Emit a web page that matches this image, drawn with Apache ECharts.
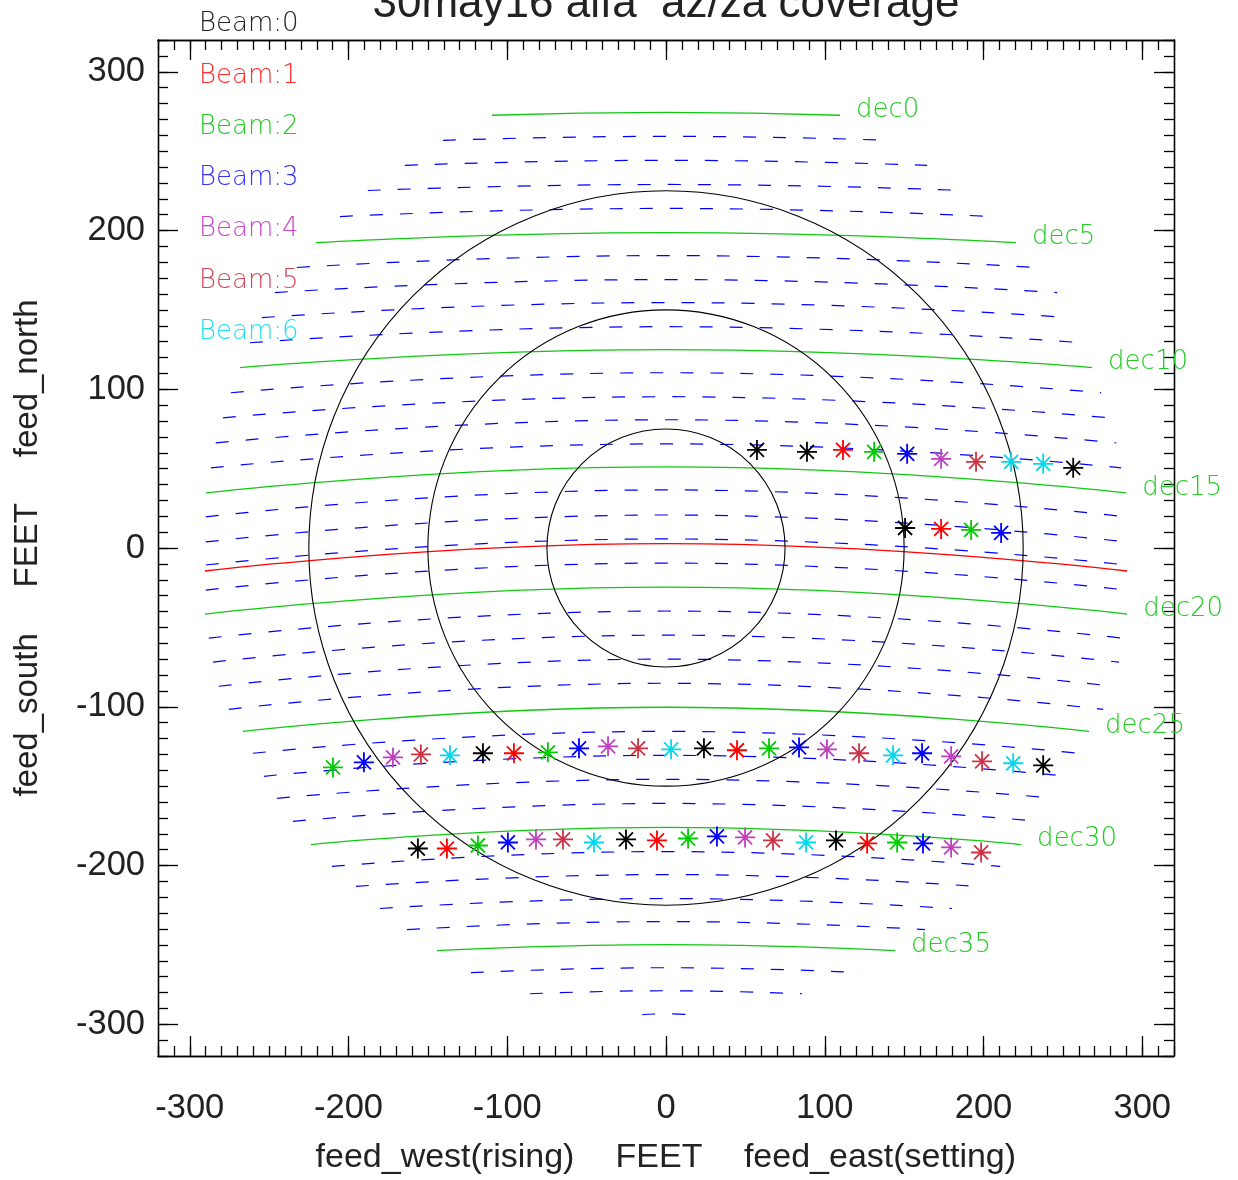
<!DOCTYPE html>
<html><head><meta charset="utf-8">
<script src="https://cdn.jsdelivr.net/npm/echarts@6/dist/echarts.min.js"></script>
<style>html,body{margin:0;padding:0;background:#fff}#c{width:1238px;height:1180px}</style>
</head><body><div id="c"></div>
<script>
// ---------------- data ----------------
const titleText = '30may16 alfa  az/za coverage';
const xTickValues = [-300, -200, -100, 0, 100, 200, 300];
const yTickValues = [-300, -200, -100, 0, 100, 200, 300];
const xNameParts = ['feed_west(rising)', 'FEET', 'feed_east(setting)'];
const yNameText = 'feed_south     FEET     feed_north';
const beamNames = ['Beam:0', 'Beam:1', 'Beam:2', 'Beam:3', 'Beam:4', 'Beam:5', 'Beam:6'];
const beamColors = ['#000000', '#ff0000', '#00cc00', '#0000ff', '#c040c0', '#cc3344', '#00d8ee'];
const beamTextColors = ['#222222', '#ff2a2a', '#22cc22', '#3333ff', '#cc44cc', '#d84455', '#22ddee'];
const circleRadii = [75, 150, 225];

// declination lines: degrees, centre y, end y, half width (feet)
const decDeg  = [0,1,2,3,4,5,6,7,8,9,10,11,12,13,14,15,16,17,18,19,20,21,22,23,24,25,26,27,28,29,30,31,32,33,34,35,36,37,38];
const decMidY = [274.4,259.3,244.2,229.0,213.9,198.7,184.2,169.1,154.6,139.4,124.9,110.4,95.3,80.8,65.6,51.1,36.6,20.8,5.7,-9.5,-24.6,-39.7,-54.9,-70.0,-85.2,-100.3,-115.5,-130.6,-145.7,-160.9,-176.0,-191.2,-205.7,-220.8,-235.3,-249.8,-264.4,-278.9,-293.4];
const decEndY = [272.6,256.8,241.0,225.2,208.8,192.4,176.7,160.9,145.1,129.3,113.6,97.8,82.0,66.2,50.5,34.7,19.6,3.8,-10.7,-26.5,-41.6,-56.8,-71.9,-87.1,-101.6,-115.5,-129.3,-143.8,-157.7,-172.2,-186.8,-200.6,-213.2,-227.1,-240.4,-253.6,-267.5,-280.8,-294.0];
const decEndX = [109.6,140.5,164.5,187.8,205.4,220.5,232.5,246.4,254.6,262.1,268.4,274.1,279.1,283.6,286.7,289.9,289.9,289.9,289.9,289.9,290.5,288.0,285.4,281.7,275.4,266.5,260.2,253.3,245.1,235.0,223.7,210.5,195.3,180.2,163.2,144.3,122.9,85.7,15.0];
// latitude (red) line
const latMidY = 2.8;
const latEndY = -14.5;
const latEndX = 290.5;

// beam positions [x, y] in feet
const beam0 = [[57.3,61.8],[88.8,60.6],[256.5,50.5],[150.6,12.6],[-115.3,-129.3],[23.9,-126.2],[237.6,-136.9],[-156.3,-189.3],[-25.2,-183.6],[107.1,-184.2]];
const beam1 = [[111.5,61.8],[173.3,12.0],[-95.8,-129.3],[44.7,-127.4],[-138.0,-189.3],[-5.7,-184.2],[126.7,-186.1]];
const beam2 = [[131.1,60.6],[192.2,11.4],[-209.8,-138.2],[-74.4,-128.7],[64.9,-126.2],[-118.5,-187.4],[13.9,-183.0],[145.6,-185.5]];
const beam3 = [[151.9,59.3],[211.1,9.5],[-190.3,-135.0],[-54.8,-126.2],[83.8,-125.6],[161.3,-129.3],[-99.6,-185.5],[32.1,-181.7],[161.9,-186.1]];
const beam4 = [[173.3,56.2],[-172.0,-131.9],[-36.5,-124.9],[101.4,-126.8],[179.6,-131.2],[-81.9,-183.6],[49.8,-182.3],[179.6,-188.6]];
const beam5 = [[195.3,54.3],[-154.4,-130.0],[-17.6,-126.2],[121.6,-129.3],[199.1,-134.4],[-64.9,-183.6],[67.4,-184.2],[198.5,-191.8]];
const beam6 = [[217.4,54.3],[237.6,53.0],[-136.1,-130.6],[3.2,-126.8],[143.0,-130.6],[218.7,-135.6],[-45.4,-185.5],[88.2,-185.5]];
const beams = [beam0, beam1, beam2, beam3, beam4, beam5, beam6];

// ---------------- chart ----------------
const SANS = "'Liberation Sans', Arial, Helvetica, sans-serif";
const THIN = "'DejaVu Sans', sans-serif";
const GREEN = '#11c811';
const AX = '#000';

function xAxisDef(pos, major, labels) {
  return {
    type: 'value', position: pos, min: -320, max: 320,
    interval: major ? 20 : 10,
    axisLine: { show: true, onZero: false, lineStyle: { color: AX, width: 1.3 } },
    axisTick: major ? { show: true, inside: true, length: 20, customValues: xTickValues, lineStyle: { color: AX, width: 1.3 } }
                    : { show: true, inside: true, length: 10, lineStyle: { color: AX, width: 1.3 } },
    axisLabel: labels ? { show: true, customValues: xTickValues, fontSize: 34.5, color: '#222', margin: 35, fontFamily: SANS } : { show: false },
    splitLine: { show: false }
  };
}
function yAxisDef(pos, major, labels) {
  return {
    type: 'value', position: pos, min: -320, max: 320,
    interval: major ? 20 : 10,
    axisLine: { show: true, onZero: false, lineStyle: { color: AX, width: 1.3 } },
    axisTick: major ? { show: true, inside: true, length: 20, customValues: yTickValues, lineStyle: { color: AX, width: 1.3 } }
                    : { show: true, inside: true, length: 10, lineStyle: { color: AX, width: 1.3 } },
    axisLabel: labels ? { show: true, customValues: yTickValues, fontSize: 34.5, color: '#222', margin: 13, fontFamily: SANS, padding: [10, 0, 0, 0] } : { show: false },
    splitLine: { show: false }
  };
}

const series = [];
decDeg.forEach((d, i) => {
  const isMajor = d % 5 === 0;
  const s = {
    type: 'line', smooth: true, symbol: 'none', silent: true, z: 2,
    data: [[-decEndX[i], decEndY[i]], [0, decMidY[i]], [decEndX[i], decEndY[i]]],
    lineStyle: isMajor ? { color: GREEN, width: 1.3, type: 'solid' }
                       : { color: '#0000ff', width: 1.2, type: [13, 17] }
  };
  if (isMajor) {
    s.endLabel = { show: true, formatter: 'dec' + d, color: '#22cc22', fontSize: 26, fontWeight: 200,
                   fontFamily: THIN, distance: 16, offset: [0, -5] };
  }
  series.push(s);
});
series.push({
  type: 'line', smooth: true, symbol: 'none', silent: true, z: 2,
  data: [[-latEndX, latEndY], [0, latMidY], [latEndX, latEndY]],
  lineStyle: { color: '#ff0000', width: 1.3 }
});
series.push({
  type: 'custom', silent: true, z: 3,
  data: circleRadii.map(r => [0, 0, r]),
  encode: { x: 0, y: 1 },
  renderItem: function (params, api) {
    const c = api.coord([api.value(0), api.value(1)]);
    const r = api.size([api.value(2), 0])[0];
    return { type: 'circle', shape: { cx: c[0], cy: c[1], r: r },
             style: { fill: 'none', stroke: '#000', lineWidth: 1.1 } };
  }
});
const STAR = 'path://M10,0 L10,20 M0,10 L20,10 M3,3 L17,17 M17,3 L3,17';
beams.forEach((b, i) => {
  series.push({
    type: 'scatter', name: beamNames[i], data: b, z: 5, silent: true,
    symbol: STAR, symbolSize: 20, symbolKeepAspect: true,
    itemStyle: { color: beamColors[i], borderColor: beamColors[i], borderWidth: 1.8, opacity: 1 }
  });
});

const graphic = [];
graphic.push({ type: 'text', x: 666, y: 27, style: { text: titleText, fill: '#222', font: '44px ' + SANS, textAlign: 'center', textVerticalAlign: 'bottom' } });
beamNames.forEach((n, i) => {
  graphic.push({ type: 'text', x: 199, y: 24.5 + i * 51.3, style: { text: n, fill: beamTextColors[i], font: '200 26px ' + THIN, textAlign: 'left', textVerticalAlign: 'middle' } });
});
const xNameCx = [445, 659, 880];
xNameParts.forEach((t, i) => {
  graphic.push({ type: 'text', x: xNameCx[i], y: 1158, style: { text: t, fill: '#222', font: '34px ' + SANS, textAlign: 'center', textVerticalAlign: 'middle' } });
});
graphic.push({ type: 'text', x: 28, y: 548, rotation: Math.PI / 2, style: { text: yNameText, fill: '#222', font: '33px ' + SANS, textAlign: 'center', textVerticalAlign: 'middle' } });

const chart = echarts.init(document.getElementById('c'), null, { renderer: 'canvas' });
chart.setOption({
  animation: false,
  backgroundColor: '#fff',
  grid: { left: 158, right: 64, top: 40, bottom: 124, containLabel: false },
  xAxis: [xAxisDef('bottom', false, false), xAxisDef('bottom', true, true), xAxisDef('top', false, false), xAxisDef('top', true, false)],
  yAxis: [yAxisDef('left', false, false), yAxisDef('left', true, true), yAxisDef('right', false, false), yAxisDef('right', true, false)],
  series: series,
  graphic: graphic
});
</script>
</body></html>
